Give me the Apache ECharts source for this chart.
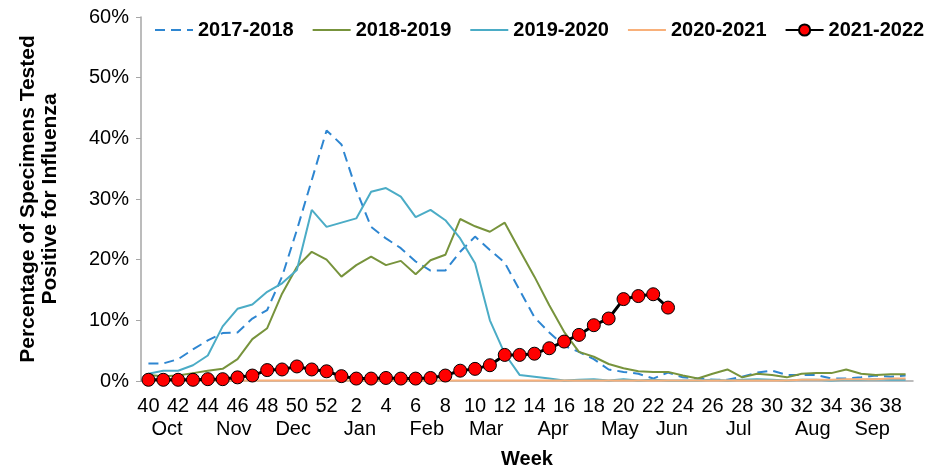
<!DOCTYPE html>
<html>
<head>
<meta charset="utf-8">
<script src="https://cdn.jsdelivr.net/npm/echarts@6/dist/echarts.min.js"></script>
<style>
  html, body { margin: 0; padding: 0; background: #fff; }
  #chart { width: 930px; height: 469px; }
</style>
</head>
<body>
<div id="chart"></div>
<script>
// surveillance weeks, Oct (40) through Sep (39)
const weeks = [40, 41, 42, 43, 44, 45, 46, 47, 48, 49, 50, 51, 52,
  1, 2, 3, 4, 5, 6, 7, 8, 9, 10, 11, 12, 13, 14, 15, 16, 17, 18, 19, 20,
  21, 22, 23, 24, 25, 26, 27, 28, 29, 30, 31, 32, 33, 34, 35, 36, 37, 38, 39];

// month name and the week it is printed under
const months = [['Oct', 41], ['Nov', 45.5], ['Dec', 49.5], ['Jan', 2], ['Feb', 6.5], ['Mar', 10.5],
  ['Apr', 15], ['May', 19.5], ['Jun', 23], ['Jul', 27.5], ['Aug', 32.5], ['Sep', 36.5]];

const yTicks = [0, 10, 20, 30, 40, 50, 60];

const s2017 = [2.9, 2.9, 3.6, 5.2, 6.7, 7.9, 8.0, 10.3, 11.7, 17.2, 24.9, 33.1, 41.3,
  39.0, 31.5, 25.4, 23.5, 21.9, 19.7, 18.2, 18.2, 21.3, 23.8, 21.6, 19.5, 15.0, 10.5,
  8.0, 5.8, 4.8, 3.6, 1.9, 1.5, 1.2, 0.4, 1.4, 0.6, 0.4, 0.2, 0.2, 0.7, 1.4, 1.7,
  1.0, 1.0, 1.0, 0.4, 0.4, 0.6, 0.9, 0.7, 0.9];

const s2018 = [1.0, 0.8, 0.9, 1.3, 1.7, 2.0, 3.6, 6.9, 8.7, 14.4, 18.8, 21.3, 20.0,
  17.2, 19.1, 20.5, 19.1, 19.8, 17.6, 19.9, 20.8, 26.7, 25.5, 24.6, 26.1, 21.6, 17.2,
  12.5, 8.1, 4.8, 4.0, 2.8, 2.1, 1.6, 1.5, 1.5, 0.9, 0.4, 1.2, 1.9, 0.6, 1.2, 1.0,
  0.6, 1.2, 1.3, 1.3, 1.9, 1.2, 1.0, 1.1, 1.1];

const s2019 = [1.2, 1.7, 1.7, 2.6, 4.2, 9.0, 11.9, 12.6, 14.7, 16.1, 18.3, 28.2, 25.4,
  26.1, 26.8, 31.2, 31.8, 30.4, 27.0, 28.2, 26.5, 23.5, 19.4, 10.0, 4.5, 1.0, 0.7,
  0.4, 0.1, 0.2, 0.3, 0.1, 0.3, 0.1, 0.2, 0.1, 0.1, 0.1, 0.2, 0.1, 0.2, 0.3, 0.2,
  0.1, 0.2, 0.2, 0.1, 0.2, 0.2, 0.3, 0.2, 0.2];

const s2020 = [0.1, 0.1, 0.1, 0.1, 0.1, 0.1, 0.1, 0.1, 0.1, 0.1, 0.1, 0.1, 0.1,
  0.1, 0.1, 0.1, 0.1, 0.1, 0.1, 0.1, 0.1, 0.1, 0.1, 0.1, 0.1, 0.1, 0.1,
  0.1, 0.1, 0.1, 0.1, 0.1, 0.1, 0.1, 0.1, 0.1, 0.1, 0.1, 0.1, 0.1, 0.1, 0.1, 0.1,
  0.1, 0.2, 0.2, 0.2, 0.3, 0.3, 0.3, 0.4, 0.4];

const s2021 = [0.2, 0.2, 0.2, 0.2, 0.3, 0.3, 0.6, 0.9, 1.8, 1.9, 2.4, 1.9, 1.6,
  0.8, 0.4, 0.4, 0.5, 0.4, 0.4, 0.5, 0.9, 1.7, 2.0, 2.6, 4.3, 4.3, 4.5,
  5.4, 6.5, 7.6, 9.2, 10.3, 13.5, 14.0, 14.3, 12.1];

// half-week slots so the month names can sit between week labels
const monthSlots = new Array(weeks.length * 2).fill('');
months.forEach(([name, wk]) => {
  const idx = weeks.indexOf(Math.floor(wk)) + (wk % 1);
  monthSlots[Math.round(idx * 2 + 0.5)] = name;
});

const font = 'Liberation Sans, Arial, sans-serif';
const axisGray = '#A6A6A6';
const hideMarker = { opacity: 0 };

const chart = echarts.init(document.getElementById('chart'));
chart.setOption({
  animation: false,
  textStyle: { fontFamily: font, color: '#000' },
  legend: {
    top: 20,
    left: 154,
    padding: 0,
    itemWidth: 38,
    itemHeight: 14,
    itemGap: 18,
    textStyle: { fontFamily: font, fontSize: 20, fontWeight: 'bold', color: '#000' },
    data: [
      { name: '2017-2018', itemStyle: hideMarker },
      { name: '2018-2019', itemStyle: hideMarker },
      { name: '2019-2020', itemStyle: hideMarker },
      { name: '2020-2021', itemStyle: hideMarker },
      { name: '2021-2022' }
    ]
  },
  grid: { left: 141, right: 17, top: 17, bottom: 88, outerBoundsMode: 'none' },
  xAxis: [
    {
      type: 'category',
      data: weeks,
      boundaryGap: true,
      name: 'Week',
      nameLocation: 'middle',
      nameGap: 68,
      nameTextStyle: { fontFamily: font, fontSize: 20, fontWeight: 'bold', color: '#000' },
      axisLine: { lineStyle: { color: axisGray, width: 1.5 } },
      axisTick: { interval: 0, length: 6, lineStyle: { color: axisGray } },
      axisLabel: { interval: 1, margin: 15, fontSize: 20, color: '#000', fontFamily: font },
      splitLine: { show: false }
    },
    {
      type: 'category',
      data: monthSlots,
      position: 'bottom',
      offset: 0,
      boundaryGap: true,
      axisLine: { show: false },
      axisTick: { show: false },
      axisLabel: { interval: 0, margin: 38, fontSize: 20, color: '#000', fontFamily: font },
      splitLine: { show: false }
    }
  ],
  yAxis: {
    type: 'value',
    min: yTicks[0],
    max: yTicks[yTicks.length - 1],
    interval: yTicks[1] - yTicks[0],
    name: 'Percentage of Specimens Tested\nPositive for Influenza',
    nameLocation: 'middle',
    nameRotate: 90,
    nameGap: 80,
    nameTextStyle: { fontFamily: font, fontSize: 21, fontWeight: 'bold', color: '#000', lineHeight: 22 },
    axisLine: { show: true, lineStyle: { color: axisGray, width: 1.5 } },
    axisTick: { show: true, length: 5, lineStyle: { color: axisGray } },
    axisLabel: { formatter: '{value}%', margin: 12, fontSize: 20, color: '#000', fontFamily: font },
    splitLine: { show: false }
  },
  series: [
    {
      name: '2017-2018', type: 'line', data: s2017, symbol: 'none',
      itemStyle: { color: '#2E86D1' },
      lineStyle: { color: '#2E86D1', width: 2, type: [10, 6] }
    },
    {
      name: '2018-2019', type: 'line', data: s2018, symbol: 'none',
      itemStyle: { color: '#77933C' },
      lineStyle: { color: '#77933C', width: 2 }
    },
    {
      name: '2019-2020', type: 'line', data: s2019, symbol: 'none',
      itemStyle: { color: '#4BACC6' },
      lineStyle: { color: '#4BACC6', width: 2 }
    },
    {
      name: '2020-2021', type: 'line', data: s2020, symbol: 'none',
      itemStyle: { color: '#F8B07A' },
      lineStyle: { color: '#F8B07A', width: 2 }
    },
    {
      name: '2021-2022', type: 'line', data: s2021,
      symbol: 'circle', symbolSize: 13, showAllSymbol: true,
      itemStyle: { color: '#FF0000', borderColor: '#000', borderWidth: 1 },
      lineStyle: { color: '#000', width: 3 },
      z: 5
    }
  ]
});
</script>
</body>
</html>
